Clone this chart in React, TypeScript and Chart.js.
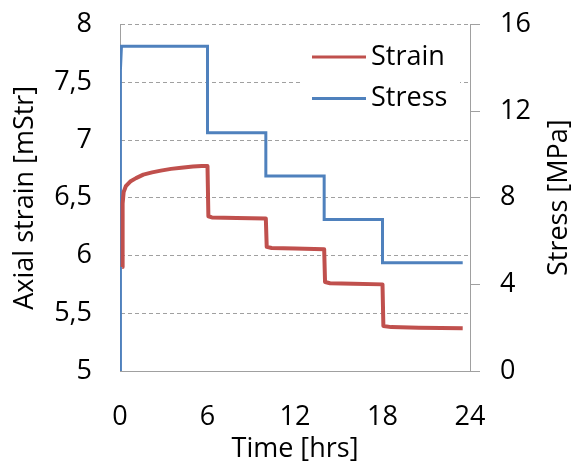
import { useEffect, useRef } from "react";
import { Chart, registerables } from "chart.js";

Chart.register(...registerables);

const strainTime = [0.15, 0.18, 0.25, 0.4, 0.7, 1.1, 1.6, 2.2, 2.8, 3.5, 4.2, 5.0, 5.6, 6.0, 6.06, 6.3, 8, 10.0, 10.06, 10.4, 12, 14.0, 14.06, 14.4, 16, 18.0, 18.06, 18.6, 20.5, 23.5];
const strainValue = [5.9, 6.45, 6.55, 6.6, 6.64, 6.67, 6.7, 6.72, 6.735, 6.75, 6.76, 6.77, 6.775, 6.775, 6.34, 6.33, 6.325, 6.32, 6.075, 6.065, 6.06, 6.055, 5.77, 5.76, 5.755, 5.75, 5.39, 5.38, 5.375, 5.37];

const stressTime = [0, 0.03, 0.1, 6, 6, 10, 10, 14, 14, 18, 18, 23.5];
const stressValue = [0, 13.9, 15, 15, 11, 11, 9, 9, 7, 7, 5, 5];

const seriesNames = ["Strain", "Stress"];
const seriesColors = ["#C0504D", "#4F81BD"];

const xTitle = "Time [hrs]";
const yTitle = "Axial strain [mStr]";
const y1Title = "Stress [MPa]";

const FONT = "'Open Sans', sans-serif";
const FS = 27;
const GRID = "#A0A0A0";

export default function App() {
  const ref = useRef<HTMLCanvasElement>(null);

  useEffect(() => {
    const canvas = ref.current;
    if (!canvas) return;

    const titlesPlugin = {
      id: "customTitles",
      afterDraw(chart: any) {
        const { ctx, chartArea } = chart;
        ctx.save();
        ctx.fillStyle = "#000";
        ctx.font = `${FS}px ${FONT}`;
        ctx.textAlign = "center";
        ctx.textBaseline = "middle";
        const cy = (chartArea.top + chartArea.bottom) / 2;
        ctx.fillText(xTitle, (chartArea.left + chartArea.right) / 2, 449);
        ctx.save();
        ctx.translate(25, cy);
        ctx.rotate(-Math.PI / 2);
        ctx.fillText(yTitle, 0, 0);
        ctx.restore();
        ctx.save();
        ctx.translate(559, cy);
        ctx.rotate(-Math.PI / 2);
        ctx.fillText(y1Title, 0, 0);
        ctx.restore();

        // legend box (white background)
        ctx.fillStyle = "#fff";
        ctx.fillRect(302, 32, 158, 92);
        ctx.fillStyle = "#000";
        const items = chart.data.datasets;
        const ys = [57, 98.5];
        items.forEach((ds: any, i: number) => {
          ctx.strokeStyle = ds.borderColor;
          ctx.lineWidth = 3;
          ctx.beginPath();
          ctx.moveTo(312, ys[i]);
          ctx.lineTo(366, ys[i]);
          ctx.stroke();
          ctx.textAlign = "left";
          ctx.fillText(ds.label, 371, ys[i]);
        });
        ctx.restore();
      },
    };

    const chart = new Chart(canvas, {
      type: "line",
      data: {
        datasets: [
          {
            label: seriesNames[0],
            data: strainTime.map((t, i) => ({ x: t, y: strainValue[i] })),
            borderColor: seriesColors[0],
            backgroundColor: seriesColors[0],
            borderWidth: 4,
            pointRadius: 0,
            tension: 0,
            yAxisID: "y",
            borderJoinStyle: "round",
          },
          {
            label: seriesNames[1],
            data: stressTime.map((t, i) => ({ x: t, y: stressValue[i] })),
            borderColor: seriesColors[1],
            backgroundColor: seriesColors[1],
            borderWidth: 3,
            pointRadius: 0,
            tension: 0,
            yAxisID: "y1",
          },
        ],
      },
      options: {
        responsive: false,
        animation: false,
        layout: { padding: { top: 24.5, left: 0, right: 0, bottom: 0 } },
        plugins: {
          legend: { display: false },
          tooltip: { enabled: false },
        },
        scales: {
          x: {
            type: "linear",
            min: 0,
            max: 24,
            ticks: {
              stepSize: 6,
              color: "#000",
              font: { family: FONT, size: FS },
              padding: 22,
              maxRotation: 0,
              autoSkip: false,
            },
            grid: { display: false },
            border: { display: true, color: GRID, width: 1 },
            afterFit(scale: any) {
              scale.height = 97;
              scale.paddingLeft = 0;
              scale.paddingRight = 0;
            },
          },
          y: {
            position: "left",
            min: 5,
            max: 8,
            ticks: {
              stepSize: 0.5,
              color: "#000",
              font: { family: FONT, size: FS },
              padding: 28,
              callback: (v: any) => String(v).replace(".", ","),
            },
            grid: { color: GRID, drawTicks: false, lineWidth: 1 },
            border: { display: true, color: GRID, width: 1, dash: [4, 3] },
            afterFit(scale: any) {
              scale.width = 120;
              scale.paddingTop = 0;
              scale.paddingBottom = 0;
            },
          },
          y1: {
            position: "right",
            min: 0,
            max: 16,
            ticks: {
              stepSize: 4,
              color: "#000",
              font: { family: FONT, size: FS },
              padding: 20,
            },
            grid: { drawOnChartArea: false, drawTicks: true, tickLength: 10, color: GRID },
            border: { display: true, color: GRID, width: 1 },
            afterFit(scale: any) {
              scale.width = 104;
              scale.paddingTop = 0;
              scale.paddingBottom = 0;
            },
          },
        },
      },
      plugins: [titlesPlugin],
    } as any);

    return () => chart.destroy();
  }, []);

  return (
    <div style={{ position: "absolute", left: 0, top: 0, width: 574, height: 468 }}>
      <canvas ref={ref} width={574} height={468} style={{ width: 574, height: 468, display: "block" }} />
    </div>
  );
}
